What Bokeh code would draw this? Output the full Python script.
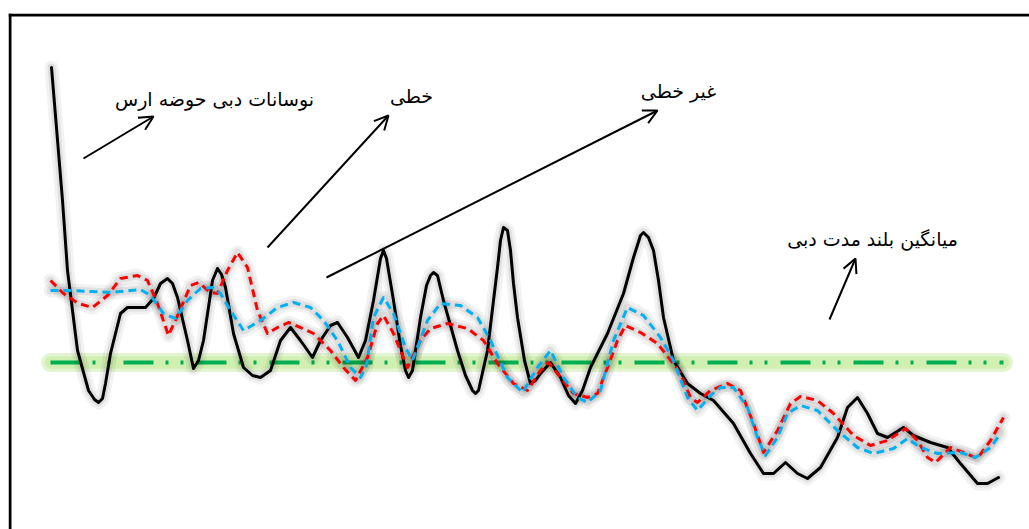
from bokeh.plotting import figure
from bokeh.models import Span, Arrow, OpenHead, Range1d
from bokeh.core.properties import value
from bokeh.embed import file_html
from bokeh.resources import INLINE

# ---- data (time step, flow anomaly relative to long-term mean) ----
obs_x = [1, 12, 17, 27, 38, 44, 48, 52, 55, 60, 70, 77, 95, 103, 110, 117, 122, 127, 137, 143, 148, 153,
         162, 167, 171, 175, 183, 193, 202, 210, 220, 230, 240, 250, 262, 270, 280, 287, 297, 308,
         315, 323, 330, 333, 336, 343, 350, 355, 358, 362, 370, 376, 380, 383, 387, 393, 407, 415,
         422, 425, 428, 437, 443, 447, 450, 453, 457, 460, 463, 467, 474, 480, 485, 490, 500, 510,
         518, 525, 532, 540, 557, 573, 583, 590, 593, 598, 603, 608, 613, 623, 637, 650, 663, 683,
         700, 713, 723, 735, 747, 757, 770, 787, 797, 807, 817, 827, 837, 853, 863, 880, 897, 910,
         927, 937, 948]
obs_y = [295, 162, 92, 12, -28, -37, -40, -36, -21, 9, 49, 55, 55, 64, 79, 84, 79, 65, 22, -6, 2, 22,
         82, 94, 88, 75, 29, -5, -13, -15, -8, 22, 35, 22, 5, 22, 37, 40, 25, 5,
         22, 62, 104, 112, 104, 62, 17, -8, -15, -8, 45, 77, 87, 90, 87, 62, 12, -13,
         -28, -31, -28, 12, 62, 95, 122, 135, 132, 112, 79, 45, 2, -21, -18, -11, 0, -15,
         -33, -41, -28, -5, 29, 69, 105, 127, 130, 125, 112, 82, 45, 2, -21, -31, -38, -61,
         -91, -111, -111, -100, -111, -116, -105, -75, -45, -35, -51, -71, -75, -65, -73, -80, -85, -101,
         -121, -121, -115]

linear_x = [0, 13, 28, 42, 57, 70, 87, 97, 107, 118, 128, 140, 148, 160, 167, 177, 187, 197, 207, 217,
            227, 238, 250, 263, 280, 293, 305, 317, 327, 333, 343, 357, 370, 380, 397, 417, 433, 447,
            463, 477, 490, 498, 510, 523, 537, 547, 557, 567, 575, 590, 607, 618, 630, 640, 647, 660,
            677, 690, 703, 713, 727, 740, 750, 767, 783, 803, 820, 837, 855, 867, 877, 885, 900, 913,
            927, 940, 953]
linear_y = [82, 69, 59, 55, 67, 84, 87, 82, 59, 27, 49, 77, 80, 70, 69, 92, 110, 95, 52, 29,
            35, 40, 35, 29, 12, -5, -18, 5, 39, 47, 29, -5, 22, 34, 39, 34, 22, -1,
            -21, -28, -8, 0, -15, -31, -35, -31, -5, 22, 37, 30, 19, 5, -11, -35, -40, -28,
            -21, -28, -61, -90, -68, -41, -34, -38, -51, -73, -83, -78, -66, -78, -95, -100, -85, -90,
            -96, -78, -55]

nonlinear_x = [0, 20, 60, 90, 100, 113, 125, 137, 150, 162, 170, 180, 193, 210, 227, 243, 260, 273, 287,
               300, 310, 316, 323, 333, 343, 355, 362, 377, 390, 410, 427, 440, 457, 472, 487, 500,
               513, 527, 537, 550, 563, 577, 593, 610, 623, 637, 647, 660, 670, 683, 697, 707, 715,
               727, 737, 750, 767, 787, 807, 823, 843, 857, 870, 887, 910, 925, 940, 950]
nonlinear_y = [72, 72, 70, 73, 67, 49, 44, 62, 74, 75, 69, 52, 32, 42, 55, 60, 55, 42, 22,
               -5, -15, -3, 45, 65, 49, 15, 2, 42, 59, 57, 45, 22, -15, -30, -5, 12,
               -15, -35, -40, -28, 22, 55, 47, 25, 2, -35, -48, -33, -25, -25, -45, -75, -93,
               -75, -51, -43, -48, -68, -85, -91, -86, -76, -85, -91, -90, -95, -85, -71]

long_term_mean = 0

labels = ["نوسانات دبی حوضه ارس", "خطی", "غیر خطی", "میانگین بلند مدت دبی"]

# ---- figure ----
p = figure(width=1029, height=529, output_backend="svg", toolbar_location=None,
           x_axis_type=None, y_axis_type=None,
           x_range=Range1d(-42, 979), y_range=Range1d(-167, 349),
           min_border_left=8, min_border_right=0, min_border_bottom=0, min_border_top=13)
p.outline_line_color = None
p.grid.visible = False
p.background_fill_color = "white"
p.border_fill_color = "white"

# frame (left and top edges visible)
p.add_layout(Span(location=-40.5, dimension="height", line_color="black", line_width=3))
p.add_layout(Span(location=347.5, dimension="width", line_color="black", line_width=3))

# long-term mean with glow
mx = [min(obs_x[0], linear_x[0], nonlinear_x[0]), max(obs_x[-1], linear_x[-1], nonlinear_x[-1])]
my = [long_term_mean, long_term_mean]
p.line(mx, my, line_color="#dcf3c4", line_width=19, line_alpha=0.8, line_cap="round")
p.line(mx, my, line_color="#c8eda2", line_width=12, line_alpha=0.7, line_cap="round")
p.line(mx, my, line_color="#00b050", line_width=4, line_dash="30 12 3 12 3 13")

# soft shadows
for xs, ys in [(obs_x, obs_y), (linear_x, linear_y), (nonlinear_x, nonlinear_y)]:
    p.line(xs, ys, line_color="black", line_alpha=0.05, line_width=14, line_join="round", line_cap="round")
    p.line(xs, ys, line_color="black", line_alpha=0.07, line_width=8, line_join="round", line_cap="round")

p.line(obs_x, obs_y, line_color="black", line_width=3, line_join="round", line_cap="round")
p.line(linear_x, linear_y, line_color="#ff0000", line_width=3, line_dash="8 5", line_join="round")
p.line(nonlinear_x, nonlinear_y, line_color="#00b0f0", line_width=3, line_dash="8 5", line_join="round")

# annotations
lx = [164, 361, 628, 822]
ly = [264, 267, 272, 124]
p.text(lx, ly, text=labels, text_align="center", text_baseline="middle",
       text_font=value("DejaVu Sans"), text_font_size="19px", text_color="black")

arrows = [((33, 204), (103, 246)), ((217, 115), (338, 247)), ((276, 85), (607, 252)), ((779, 43), (805, 104))]
for (x0, y0), (x1, y1) in arrows:
    p.add_layout(Arrow(end=OpenHead(size=14, line_width=2, line_color="black"),
                       x_start=x0, y_start=y0, x_end=x1, y_end=y1,
                       line_width=2, line_color="black"))

open("out.html", "w").write(file_html(p, INLINE))
